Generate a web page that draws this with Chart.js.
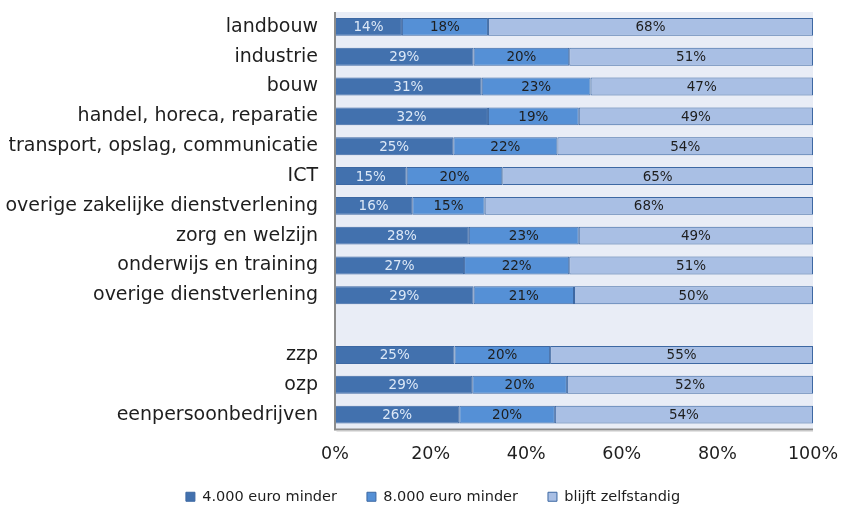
<!DOCTYPE html>
<html>
<head>
<meta charset="utf-8">
<script src="https://cdn.jsdelivr.net/npm/chart.js@4/dist/chart.umd.min.js"></script>
<style>
  html, body { margin: 0; padding: 0; background: #fff; }
  #wrap { width: 842px; height: 507px; }
</style>
</head>
<body>
<div id="wrap"><canvas id="chart" width="842" height="507"></canvas></div>
<script>
const categories = [
    'landbouw',
    'industrie',
    'bouw',
    'handel, horeca, reparatie',
    'transport, opslag, communicatie',
    'ICT',
    'overige zakelijke dienstverlening',
    'zorg en welzijn',
    'onderwijs en training',
    'overige dienstverlening',
    '',
    'zzp',
    'ozp',
    'eenpersoonbedrijven'
];

const seriesNames = ['4.000 euro minder', '8.000 euro minder', 'blijft zelfstandig'];

const min4000 = [14, 29, 31, 32, 25, 15, 16, 28, 27, 29, null, 25, 29, 26];
const min8000 = [18, 20, 23, 19, 22, 20, 15, 23, 22, 21, null, 20, 20, 20];
const zelfstandig = [68, 51, 47, 49, 54, 65, 68, 49, 51, 50, null, 55, 52, 54];

const tickLabels = ['0%', '20%', '40%', '60%', '80%', '100%'];

const colors = ['#4271AE', '#5590D6', '#A9BFE4'];
const labelColors = ['#DCE8F7', '#1E1E1E', '#1E1E1E'];
const fontFamily = '"DejaVu Sans", Verdana, sans-serif';

// 100% stacked: scale each row to its total
const raw = [min4000, min8000, zelfstandig];
const totals = categories.map((c, i) => raw.reduce((s, arr) => s + (arr[i] || 0), 0));
const share = arr => arr.map((v, i) => v === null ? null : v / totals[i] * 100);

const plotBackground = {
    id: 'plotBackground',
    beforeDraw(chart) {
        const { ctx, chartArea: a } = chart;
        ctx.save();
        ctx.fillStyle = '#E9EDF6';
        ctx.fillRect(a.left, a.top, a.right - a.left, a.bottom - a.top);
        ctx.restore();
    }
};

// Axis frame: gray left and bottom line
const axisFrame = {
    id: 'axisFrame',
    afterDatasetsDraw(chart) {
        const { ctx, chartArea: a } = chart;
        ctx.save();
        ctx.strokeStyle = '#8C8C8C';
        ctx.lineWidth = 2;
        ctx.beginPath();
        ctx.moveTo(a.left, a.top);
        ctx.lineTo(a.left, a.bottom);
        ctx.lineTo(a.right, a.bottom);
        ctx.stroke();
        ctx.strokeStyle = '#C8C8C8';
        ctx.lineWidth = 1;
        ctx.beginPath();
        ctx.moveTo(a.left + 1.5, a.bottom + 1.5);
        ctx.lineTo(a.right, a.bottom + 1.5);
        ctx.stroke();
        ctx.restore();
    }
};

const barLabels = {
    id: 'barLabels',
    afterDatasetsDraw(chart) {
        const ctx = chart.ctx;
        ctx.save();
        ctx.font = '13.5px ' + fontFamily;
        ctx.textAlign = 'center';
        ctx.textBaseline = 'middle';
        chart.data.datasets.forEach((ds, di) => {
            const meta = chart.getDatasetMeta(di);
            meta.data.forEach((el, i) => {
                const v = raw[di][i];
                if (v === null) return;
                ctx.fillStyle = labelColors[di];
                ctx.fillText(v + '%', (el.x + el.base) / 2, el.y + 1);
            });
        });
        ctx.restore();
    }
};

new Chart(document.getElementById('chart'), {
    type: 'bar',
    data: {
        labels: categories,
        datasets: seriesNames.map((name, i) => ({
            label: name,
            data: share(raw[i]),
            backgroundColor: colors[i],
            borderColor: '#3D68A3',
            borderWidth: 1,
            borderSkipped: false,
            barPercentage: 0.6,
            categoryPercentage: 1
        }))
    },
    options: {
        indexAxis: 'y',
        responsive: false,
        animation: false,
        layout: { padding: { top: 12, right: -20, left: 4, bottom: -7 } },
        scales: {
            x: {
                stacked: true,
                min: 0,
                max: 100,
                grid: { display: false, drawTicks: false },
                border: { display: false },
                afterFit: (scale) => {
                    scale.height = 30;
                    scale.paddingLeft = 0;
                    scale.paddingRight = 29;
                },
                ticks: {
                    stepSize: 20,
                    padding: 14,
                    maxRotation: 0,
                    color: '#1E1E1E',
                    font: { family: fontFamily, size: 17.5 },
                    callback: (v) => tickLabels[v / 20]
                }
            },
            y: {
                stacked: true,
                grid: { display: false, drawTicks: false },
                border: { display: false },
                afterFit: (scale) => {
                    scale.width = 331;
                    scale.paddingTop = 0;
                    scale.paddingBottom = 0;
                },
                ticks: {
                    padding: 17,
                    color: '#1E1E1E',
                    font: { family: fontFamily, size: 19 }
                }
            }
        },
        plugins: {
            legend: {
                position: 'bottom',
                labels: {
                    boxWidth: 9,
                    boxHeight: 9,
                    padding: 30,
                    color: '#1E1E1E',
                    font: { family: fontFamily, size: 14.5 }
                }
            },
            tooltip: { enabled: false }
        }
    },
    plugins: [plotBackground, axisFrame, barLabels]
});
</script>
</body>
</html>
